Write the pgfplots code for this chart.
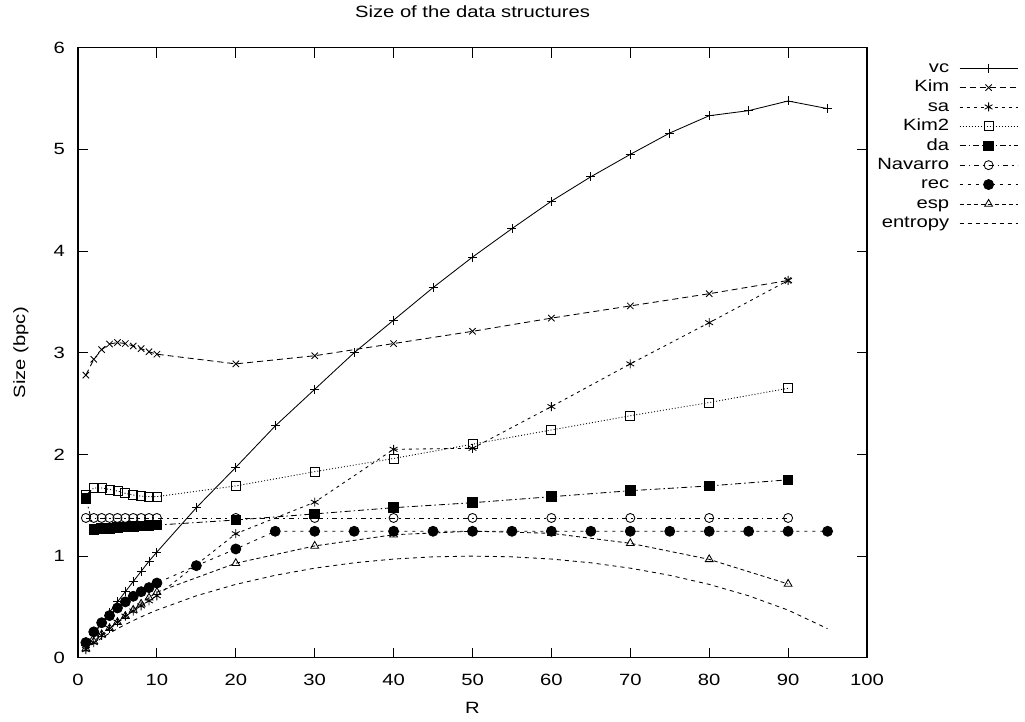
\documentclass[border=0pt]{standalone}
\usepackage{fontspec}
\setmainfont{Liberation Sans}[FakeStretch=1.24]
\usepackage{pgfplots}
\usepackage{pgfplotstable}
\pgfplotsset{compat=1.18}

% Size in bits per character for each structure, as a function of R
\pgfplotstableread{
R size
1 0.12
2 0.23
3 0.34
4 0.45
5 0.55
6 0.65
7 0.75
8 0.85
9 0.95
10 1.04
15 1.476
20 1.873
25 2.28
30 2.64
35 3.00
40 3.32
45 3.64
50 3.94
55 4.22
60 4.49
65 4.73
70 4.95
75 5.16
80 5.33
85 5.38
90 5.475
95 5.40
}\vc
\pgfplotstableread{
R size
1 2.78
2 2.935
3 3.03
4 3.085
5 3.10
6 3.09
7 3.066
8 3.04
9 3.01
10 2.985
20 2.89
30 2.97
40 3.09
50 3.21
60 3.34
70 3.46
80 3.58
90 3.71
}\kim
\pgfplotstableread{
R size
1 0.08
2 0.15
3 0.22
4 0.29
5 0.35
6 0.41
7 0.46
8 0.51
9 0.56
10 0.61
20 1.22
30 1.53
40 2.05
50 2.06
60 2.47
70 2.89
80 3.295
90 3.71
}\sa
\pgfplotstableread{
R size
1 1.60
2 1.67
3 1.67
4 1.655
5 1.64
6 1.617
7 1.60
8 1.59
9 1.585
10 1.585
20 1.69
30 1.83
40 1.96
50 2.10
60 2.24
70 2.38
80 2.51
90 2.65
}\kimtwo
\pgfplotstableread{
R size
1 1.57
2 1.265
3 1.27
4 1.275
5 1.28
6 1.285
7 1.29
8 1.295
9 1.30
10 1.305
20 1.355
30 1.415
40 1.476
50 1.525
60 1.584
70 1.643
80 1.69
90 1.75
}\da
\pgfplotstableread{
R size
1 1.375
2 1.375
3 1.375
4 1.375
5 1.375
6 1.375
7 1.375
8 1.375
9 1.375
10 1.375
20 1.375
30 1.375
40 1.375
50 1.375
60 1.375
70 1.375
80 1.375
90 1.375
}\navarro
\pgfplotstableread{
R size
1 0.15
2 0.255
3 0.345
4 0.415
5 0.49
6 0.55
7 0.605
8 0.65
9 0.69
10 0.735
15 0.906
20 1.07
25 1.244
30 1.244
35 1.244
40 1.244
45 1.244
50 1.244
55 1.244
60 1.244
65 1.244
70 1.244
75 1.244
80 1.244
85 1.244
90 1.244
95 1.244
}\rec
\pgfplotstableread{
R size
1 0.09
2 0.16
3 0.23
4 0.29
5 0.35
6 0.41
7 0.47
8 0.53
9 0.59
10 0.645
20 0.93
30 1.10
40 1.21
50 1.245
60 1.224
70 1.126
80 0.968
90 0.726
}\esp
\pgfplotstableread{
R size
1 0.0808
2 0.1414
3 0.1944
4 0.2423
5 0.2864
6 0.3274
7 0.3659
8 0.4022
9 0.4365
10 0.4690
15 0.6098
20 0.7219
25 0.8113
30 0.8813
35 0.9341
40 0.9710
45 0.9928
50 1.0000
55 0.9928
60 0.9710
65 0.9341
70 0.8813
75 0.8113
80 0.7219
85 0.6098
90 0.4690
95 0.2864
}\entropy

\begin{document}
\fontsize{16.3bp}{19bp}\selectfont
\begin{tikzpicture}
\begin{axis}[
  at={(78bp,64.2bp)}, anchor=south west,
  scale only axis, width=789bp, height=610.2bp,
  xmin=0, xmax=100, ymin=0, ymax=6,
  xtick={0,10,...,100}, ytick={0,1,...,6},
  tick align=inside, major tick length=10bp,
  xtick pos=both, ytick pos=both,
  axis line style={line width=1.1bp},
  tick style={line width=0.9bp, black},
  /pgf/number format/assume math mode=true,
  ticklabel style={font=\fontsize{16.3bp}{19bp}\selectfont},
  xticklabel style={anchor=base, inner sep=0pt, yshift=-28bp},
  yticklabel style={anchor=east, inner sep=0pt, xshift=-13bp},
  title={Size of the data structures},
  title style={at={(0.5,1)}, anchor=base, inner sep=0pt, yshift=24.6bp},
  xlabel={R},
  xlabel style={at={(0.5,0)}, anchor=base, inner sep=0pt, yshift=-56bp},
  ylabel={Size (bpc)},
  ylabel style={at={(0,0.5)}, anchor=center, inner sep=0pt, rotate=0, yshift=57bp},
  every axis plot/.append style={line width=0.85bp, black},
  mark options={solid, line width=0.85bp},
  legend plot pos=right,
  legend cell align=right,
  legend image code/.code={%
    \draw[mark repeat=2, mark phase=2] plot coordinates {(0bp,0bp) (29bp,0bp) (58bp,0bp)};},
  legend style={draw=none, fill=none, inner sep=0pt, outer sep=0pt,
    at={(1.1914,0.979)}, anchor=north east,
    nodes={inner sep=0pt, text height=12bp, text depth=3.5bp},
    row sep=3.9bp, column sep=10bp,
    font=\fontsize{16.3bp}{19bp}\selectfont},
]
\addplot[solid, mark=+, mark size=4.5bp] table {\vc};
\addlegendentry{vc}
\addplot[dash pattern=on 6bp off 4bp, mark=x, mark size=4.5bp] table {\kim};
\addlegendentry{Kim}
\addplot[dash pattern=on 3bp off 4bp, mark=asterisk, mark size=4.5bp] table {\sa};
\addlegendentry{sa}
\addplot[dash pattern=on 1bp off 2bp, mark=square, mark size=4.5bp] table {\kimtwo};
\addlegendentry{Kim2}
\addplot[dash pattern=on 6bp off 3bp on 1.5bp off 3bp, mark=square*, mark size=4.8bp] table {\da};
\addlegendentry{da}
\addplot[dash pattern=on 5bp off 4bp on 1.5bp off 4bp, mark=o, mark size=4.5bp] table {\navarro};
\addlegendentry{Navarro}
\addplot[dash pattern=on 3bp off 5bp, mark=*, mark size=5bp] table {\rec};
\addlegendentry{rec}
\addplot[dash pattern=on 4bp off 3bp, mark=triangle, mark size=4.5bp] table {\esp};
\addlegendentry{esp}
\addplot[dash pattern=on 4bp off 4bp, no marks] table {\entropy};
\addlegendentry{entropy}
\end{axis}
\pgfresetboundingbox
\path[use as bounding box] (0,0) rectangle (1025bp,722bp);
\end{tikzpicture}
\end{document}
